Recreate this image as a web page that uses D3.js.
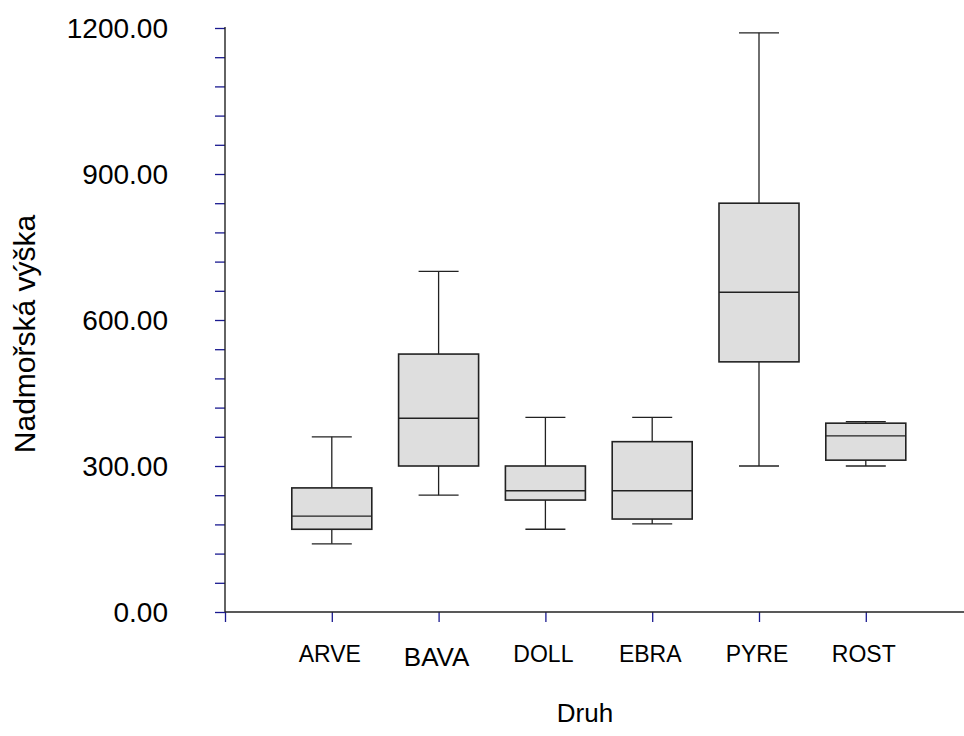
<!DOCTYPE html>
<html>
<head>
<meta charset="utf-8">
<script src="https://cdn.jsdelivr.net/npm/d3@7"></script>
<style>
  body { margin: 0; background: #fff; }
  svg { font-family: Arial, "Liberation Sans", sans-serif; }
</style>
</head>
<body>
<script>
// box plot data
var categories = ["ARVE", "BAVA", "DOLL", "EBRA", "PYRE", "ROST"];
var whiskerLow  = [140, 240, 170, 181, 300, 300];
var q1          = [170, 300, 230, 191, 514, 312];
var medians     = [197, 398, 249, 249, 657, 362];
var q3          = [255, 530, 300, 350, 840, 388];
var whiskerHigh = [360, 700, 400, 400, 1190, 391];
var yTicks = [0, 300, 600, 900, 1200];

var width = 964, height = 736;
var x0 = 225, yBottom = 612, yTop = 28, step = 106.8;

var svg = d3.select("body").append("svg")
    .attr("width", width)
    .attr("height", height);

// index -> pixel (0 is the y axis, categories start at 1)
var xScale = d3.scaleLinear().domain([0, 7]).range([x0, x0 + 7 * step]);
var yScale = d3.scaleLinear().domain([0, 1200]).range([yBottom, yTop]);

var boxW = 80, capW = 40;
var data = categories.map(function (c, i) {
    return { name: c, i: i + 1, lo: whiskerLow[i], q1: q1[i], med: medians[i], q3: q3[i], hi: whiskerHigh[i] };
});

// y axis: minor ticks every 60, labels every 300
var yAxis = svg.append("g")
    .attr("transform", "translate(" + x0 + ",0)")
    .call(d3.axisLeft(yScale).tickValues(d3.range(0, 1201, 60)).tickSize(10).tickFormat(""));
yAxis.select(".domain").remove();
yAxis.selectAll(".tick line").attr("stroke", "#1a1a90").attr("stroke-width", 1.3);

svg.append("line")
    .attr("x1", x0).attr("x2", x0)
    .attr("y1", yTop - 1).attr("y2", yBottom)
    .attr("stroke", "#222").attr("stroke-width", 1.4);

svg.selectAll(".ylab")
    .data(yTicks)
    .enter().append("text")
    .attr("class", "ylab")
    .attr("x", 168)
    .attr("y", function (d) { return yScale(d); })
    .attr("dy", "0.36em")
    .attr("text-anchor", "end")
    .style("font-size", "28px")
    .text(function (d) { return d3.format(".2f")(d); });

// x axis
var xAxis = svg.append("g")
    .attr("transform", "translate(0," + yBottom + ")")
    .call(d3.axisBottom(xScale).tickValues(d3.range(0, 7)).tickSize(10).tickFormat(""));
xAxis.select(".domain").remove();
xAxis.selectAll(".tick line").attr("stroke", "#1a1a90").attr("stroke-width", 1.3);

svg.append("line")
    .attr("x1", x0).attr("x2", width)
    .attr("y1", yBottom).attr("y2", yBottom)
    .attr("stroke", "#222").attr("stroke-width", 1.4);

svg.selectAll(".xlab")
    .data(data)
    .enter().append("text")
    .attr("class", "xlab")
    .attr("x", function (d) { return xScale(d.i) - 2; })
    .attr("y", function (d) { return d.name == "BAVA" ? 666 : 662; })
    .attr("text-anchor", "middle")
    .style("font-size", function (d) { return d.name == "BAVA" ? "26px" : "23px"; })
    .text(function (d) { return d.name; });

// axis titles
svg.append("text")
    .attr("x", 585).attr("y", 722)
    .attr("text-anchor", "middle")
    .style("font-size", "26px")
    .text("Druh");

svg.append("text")
    .attr("transform", "translate(35,334) rotate(-90)")
    .attr("text-anchor", "middle")
    .style("font-size", "30px")
    .text("Nadmořská výška");

// boxes
var g = svg.selectAll(".box")
    .data(data)
    .enter().append("g")
    .attr("class", "box");

// whisker stems
g.append("line")
    .attr("x1", function (d) { return xScale(d.i); })
    .attr("x2", function (d) { return xScale(d.i); })
    .attr("y1", function (d) { return yScale(d.hi); })
    .attr("y2", function (d) { return yScale(d.lo); })
    .attr("stroke", "#222").attr("stroke-width", 1.3);

// caps
["hi", "lo"].forEach(function (k) {
    g.append("line")
        .attr("x1", function (d) { return xScale(d.i) - capW / 2; })
        .attr("x2", function (d) { return xScale(d.i) + capW / 2; })
        .attr("y1", function (d) { return yScale(d[k]); })
        .attr("y2", function (d) { return yScale(d[k]); })
        .attr("stroke", "#222").attr("stroke-width", 1.3);
});

g.append("rect")
    .attr("x", function (d) { return xScale(d.i) - boxW / 2; })
    .attr("y", function (d) { return yScale(d.q3); })
    .attr("width", boxW)
    .attr("height", function (d) { return yScale(d.q1) - yScale(d.q3); })
    .attr("fill", "#dedede")
    .attr("stroke", "#222").attr("stroke-width", 1.6);

g.append("line")
    .attr("x1", function (d) { return xScale(d.i) - boxW / 2; })
    .attr("x2", function (d) { return xScale(d.i) + boxW / 2; })
    .attr("y1", function (d) { return yScale(d.med); })
    .attr("y2", function (d) { return yScale(d.med); })
    .attr("stroke", "#222").attr("stroke-width", 1.4);
</script>
</body>
</html>
